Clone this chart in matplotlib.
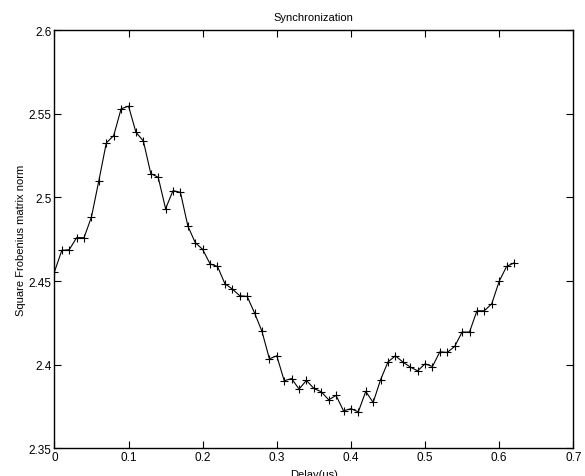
"""
Synchronization: square Frobenius matrix norm vs delay.
"""

import matplotlib
matplotlib.use("Agg")
import matplotlib.pyplot as plt

# =========================================================
# Data
# =========================================================

delay_us = [
    0.00, 0.01, 0.02, 0.03, 0.04, 0.05, 0.06, 0.07, 0.08, 0.09,
    0.10, 0.11, 0.12, 0.13, 0.14, 0.15, 0.16, 0.17, 0.18, 0.19,
    0.20, 0.21, 0.22, 0.23, 0.24, 0.25, 0.26, 0.27, 0.28, 0.29,
    0.30, 0.31, 0.32, 0.33, 0.34, 0.35, 0.36, 0.37, 0.38, 0.39,
    0.40, 0.41, 0.42, 0.43, 0.44, 0.45, 0.46, 0.47, 0.48, 0.49,
    0.50, 0.51, 0.52, 0.53, 0.54, 0.55, 0.56, 0.57, 0.58, 0.59,
    0.60, 0.61, 0.62,
]

frob_norm = [
    2.4554, 2.4683, 2.4687, 2.4759, 2.4759, 2.4883, 2.5100, 2.5325, 2.5369, 2.5529,
    2.5545, 2.5389, 2.5337, 2.5142, 2.5120, 2.4932, 2.5040, 2.5030, 2.4829, 2.4729,
    2.4689, 2.4602, 2.4587, 2.4484, 2.4452, 2.4412, 2.4408, 2.4309, 2.4199, 2.4035,
    2.4053, 2.3904, 2.3917, 2.3854, 2.3906, 2.3858, 2.3838, 2.3790, 2.3816, 2.3724,
    2.3737, 2.3718, 2.3840, 2.3774, 2.3910, 2.4016, 2.4053, 2.4016, 2.3986, 2.3963,
    2.4005, 2.3989, 2.4077, 2.4073, 2.4109, 2.4195, 2.4195, 2.4322, 2.4322, 2.4364,
    2.4498, 2.4587, 2.4608,
]

x_ticks = [0, 0.1, 0.2, 0.3, 0.4, 0.5, 0.6, 0.7]
x_ticklabels = ["0", "0.1", "0.2", "0.3", "0.4", "0.5", "0.6", "0.7"]
y_ticks = [2.35, 2.4, 2.45, 2.5, 2.55, 2.6]
y_ticklabels = ["2.35", "2.4", "2.45", "2.5", "2.55", "2.6"]

# =========================================================
# Style
# =========================================================

plt.rcParams["font.family"] = ["Liberation Sans", "DejaVu Sans"]

fig = plt.figure(figsize=(5.85, 4.77), dpi=100)
ax = fig.add_axes([0.093, 0.058, 0.887, 0.877])

# =========================================================
# Curve
# =========================================================

ax.plot(
    delay_us,
    frob_norm,
    color="black",
    linewidth=0.8,
    marker="+",
    markersize=6,
    markeredgewidth=0.8,
)

# =========================================================
# Axes
# =========================================================

ax.set_xlim(0, 0.7)
ax.set_ylim(2.35, 2.6)
ax.set_xticks(x_ticks)
ax.set_xticklabels(x_ticklabels)
ax.set_yticks(y_ticks)
ax.set_yticklabels(y_ticklabels)

ax.tick_params(
    direction="in",
    top=True,
    right=True,
    length=5,
    width=0.8,
    labelsize=8.5,
    pad=2,
)

for spine in ax.spines.values():
    spine.set_linewidth(1.0)

ax.set_title("Synchronization", fontsize=8, pad=7)
ax.set_xlabel("Delay(us)", fontsize=8, labelpad=4)
ax.set_ylabel("Square Frobenius matrix norm", fontsize=8, labelpad=2)

fig.savefig("out.png", dpi=100)
